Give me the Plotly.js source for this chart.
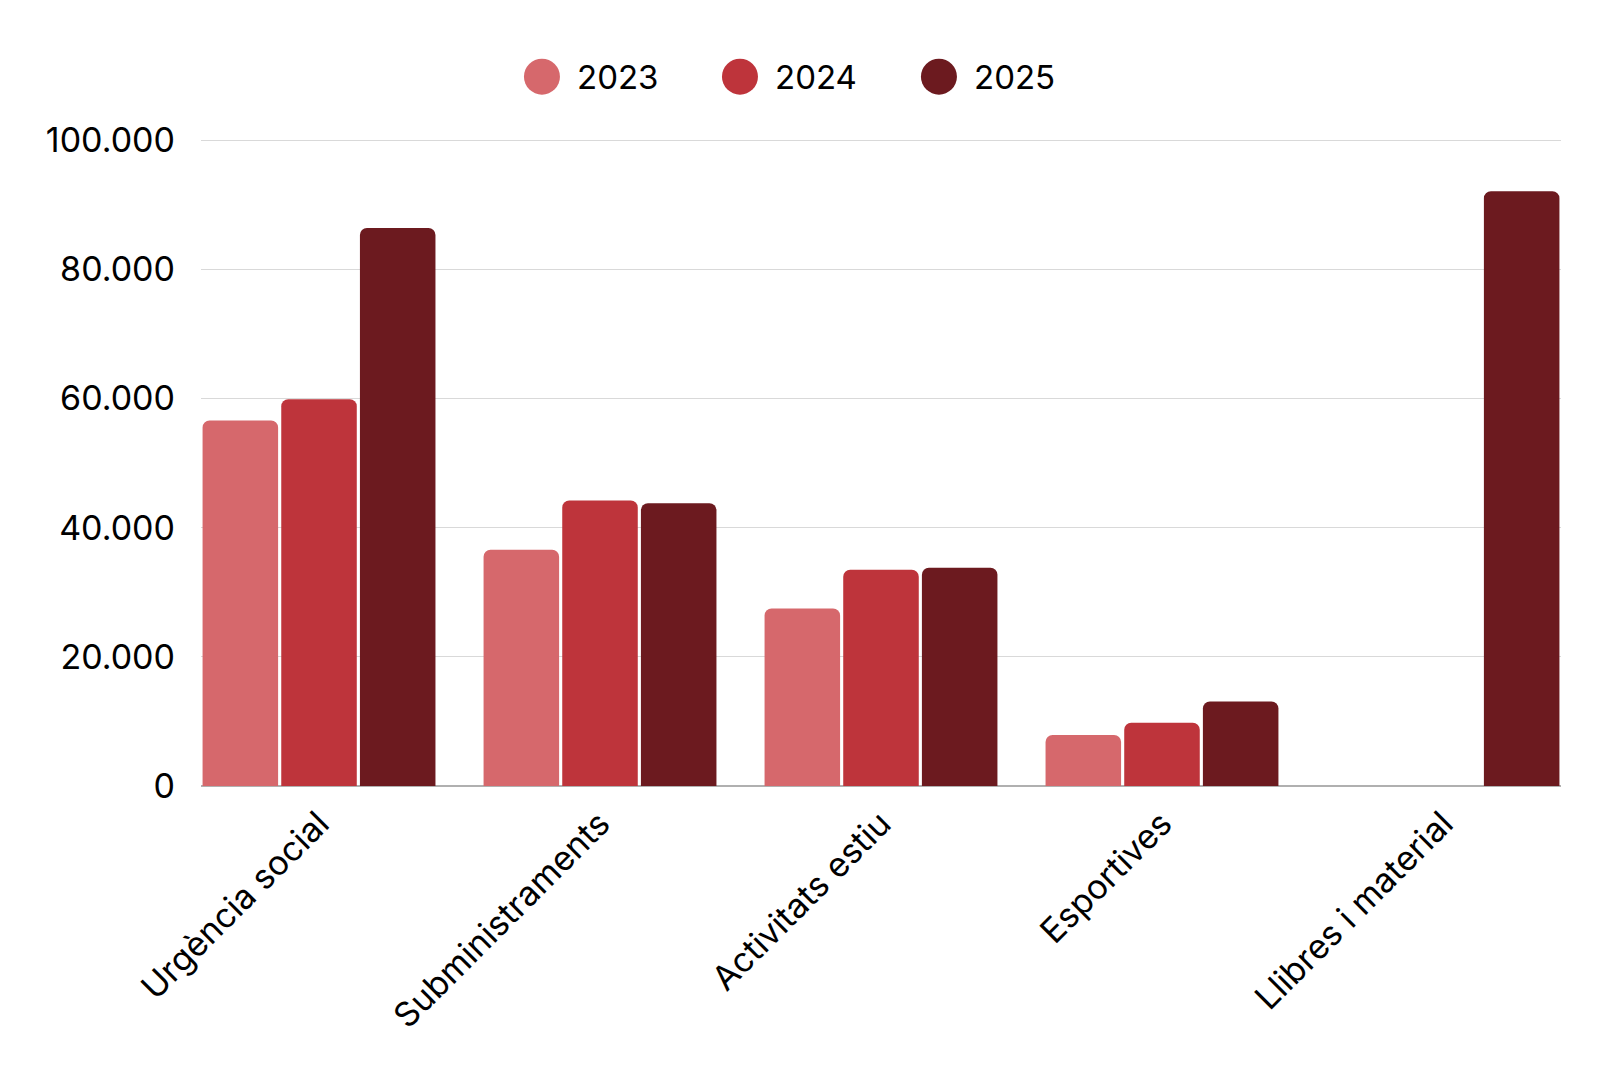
<!DOCTYPE html>
<html>
<head>
<meta charset="utf-8">
<script src="https://cdn.plot.ly/plotly-3.0.1.min.js"></script>
<style>
  html, body { margin: 0; padding: 0; background: #fff; }
  #chart { width: 1600px; height: 1080px; }
</style>
</head>
<body>
<div id="chart"></div>
<script>
// categories and yearly amounts (euros)
var categories = ['Urgència social', 'Subministraments', 'Activitats estiu', 'Esportives', 'Llibres i material'];
var years = ['2023', '2024', '2025'];
var values2023 = [56600, 36600, 27500, 7900, null];
var values2024 = [59900, 44200, 33500, 9800, null];
var values2025 = [86400, 43800, 33800, 13100, 92100];
var yTicks = [0, 20000, 40000, 60000, 80000, 100000];

var colors = ['#d6686c', '#be343b', '#6c1a1f'];
var series = [values2023, values2024, values2025];

var fontFamily = 'Inter, "Noto Sans", sans-serif';

var data = [];
for (let i = 0; i < years.length; i++) {
  data.push({
    type: 'bar',
    name: years[i],
    x: categories,
    y: series[i],
    marker: { color: colors[i], line: { width: 0 } },
    showlegend: false,
    hoverinfo: 'x+y+name'
  });
}

// custom legend: big round swatches + labels above the plot
var legendX = [0.2507, 0.3963, 0.5426];
var legendY = 1.093;
var shapes = [];
var annotations = [];
for (let i = 0; i < years.length; i++) {
  shapes.push({
    type: 'circle',
    xref: 'paper', yref: 'paper',
    xsizemode: 'pixel', ysizemode: 'pixel',
    xanchor: legendX[i], yanchor: legendY,
    x0: -18, x1: 18, y0: -18, y1: 18,
    fillcolor: colors[i],
    line: { width: 0 }
  });
  annotations.push({
    xref: 'paper', yref: 'paper',
    x: legendX[i], y: legendY,
    xshift: 33,
    xanchor: 'left', yanchor: 'middle',
    text: years[i],
    showarrow: false,
    font: { family: fontFamily, size: 33, color: '#000' }
  });
}

var layout = {
  width: 1600,
  height: 1080,
  margin: { l: 201, r: 39, t: 137, b: 294 },
  paper_bgcolor: '#fff',
  plot_bgcolor: '#fff',
  font: { family: fontFamily, size: 34, color: '#000' },
  separators: ',.',
  barmode: 'group',
  bargap: 0.16,
  bargroupgap: 0.04,
  barcornerradius: 7,
  xaxis: {
    type: 'category',
    range: [-0.42, 4.42],
    tickangle: -45,
    ticks: '',
    showgrid: false,
    showline: false,
    ticklabelstandoff: 10,
    tickfont: { family: fontFamily, size: 34, color: '#000' }
  },
  yaxis: {
    range: [0, 100500],
    tickvals: yTicks,
    tickformat: ',d',
    ticks: '',
    showline: false,
    gridcolor: '#d9d9d9',
    gridwidth: 1,
    zeroline: true,
    zerolinecolor: '#b0b0b0',
    zerolinewidth: 1.5,
    ticklabelstandoff: 25,
    tickfont: { family: fontFamily, size: 34, color: '#000' }
  },
  shapes: shapes,
  annotations: annotations
};

Plotly.newPlot('chart', data, layout, { displayModeBar: false, staticPlot: true });
</script>
</body>
</html>
